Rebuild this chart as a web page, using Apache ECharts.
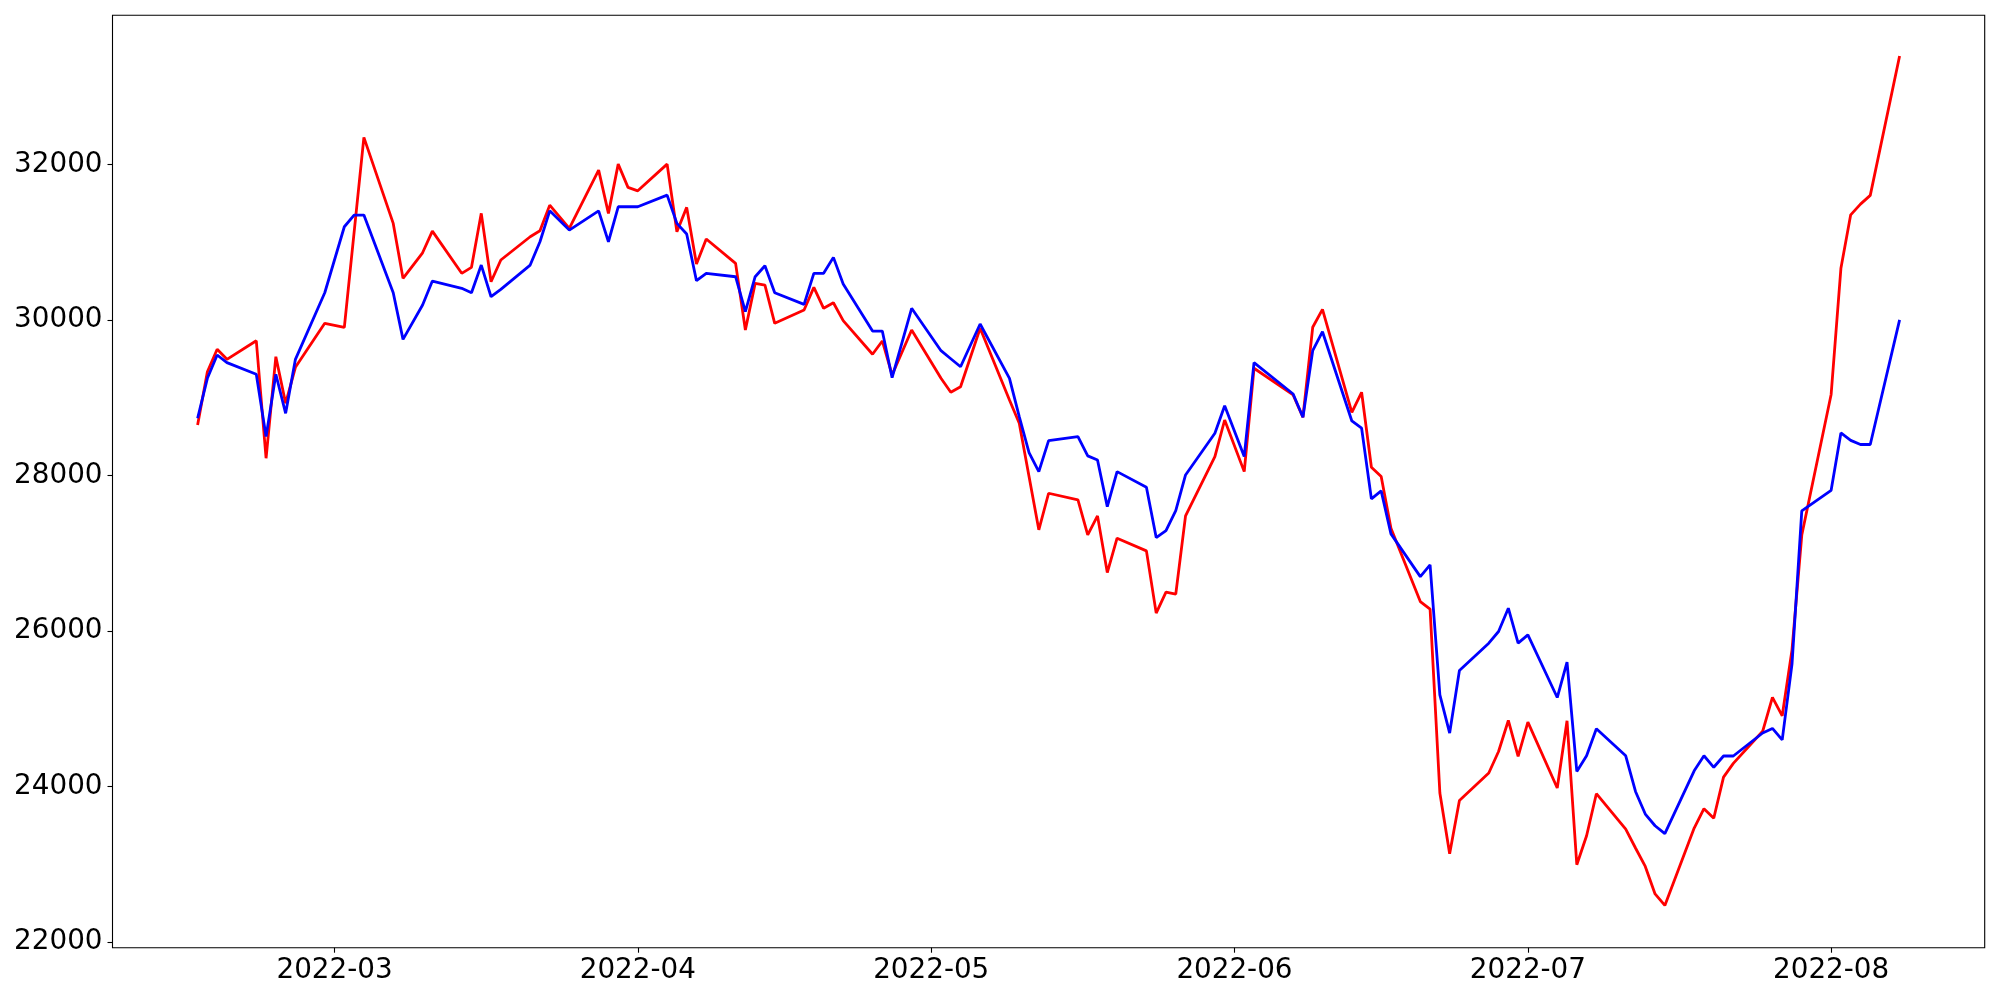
<!DOCTYPE html>
<html>
<head>
<meta charset="utf-8">
<script src="https://cdn.jsdelivr.net/npm/echarts@6/dist/echarts.min.js"></script>
<style>
html,body{margin:0;padding:0;background:#fff;}
#chart{width:2000px;height:1000px;}
</style>
</head>
<body>
<div id="chart"></div>
<script>
const dates = ['2022-02-15','2022-02-16','2022-02-17','2022-02-18','2022-02-21','2022-02-22','2022-02-23','2022-02-24','2022-02-25','2022-02-28',
'2022-03-02','2022-03-03','2022-03-04','2022-03-07','2022-03-08','2022-03-10','2022-03-11','2022-03-14','2022-03-15','2022-03-16','2022-03-17','2022-03-18','2022-03-21','2022-03-22','2022-03-23','2022-03-25','2022-03-28','2022-03-29','2022-03-30','2022-03-31',
'2022-04-01','2022-04-04','2022-04-05','2022-04-06','2022-04-07','2022-04-08','2022-04-11','2022-04-12','2022-04-13','2022-04-14','2022-04-15','2022-04-18','2022-04-19','2022-04-20','2022-04-21','2022-04-22','2022-04-25','2022-04-26','2022-04-27','2022-04-29',
'2022-05-02','2022-05-03','2022-05-04','2022-05-06','2022-05-09','2022-05-10','2022-05-11','2022-05-12','2022-05-13','2022-05-16','2022-05-17','2022-05-18','2022-05-19','2022-05-20','2022-05-23','2022-05-24','2022-05-25','2022-05-26','2022-05-27','2022-05-30','2022-05-31',
'2022-06-02','2022-06-03','2022-06-07','2022-06-08','2022-06-09','2022-06-10','2022-06-13','2022-06-14','2022-06-15','2022-06-16','2022-06-17','2022-06-20','2022-06-21','2022-06-22','2022-06-23','2022-06-24','2022-06-27','2022-06-28','2022-06-29','2022-06-30',
'2022-07-01','2022-07-04','2022-07-05','2022-07-06','2022-07-07','2022-07-08','2022-07-11','2022-07-12','2022-07-13','2022-07-14','2022-07-15','2022-07-18','2022-07-19','2022-07-20','2022-07-21','2022-07-22','2022-07-25','2022-07-26','2022-07-27','2022-07-28','2022-07-29',
'2022-08-01','2022-08-02','2022-08-03','2022-08-04','2022-08-05','2022-08-08'];

const redValues = [28652,29337,29625,29496,29735,28224,29530,28931,29394,29959,
29908,31129,32350,31244,30537,30866,31145,30602,30679,31373,30494,30773,31072,31149,31479,31180,31929,31373,32006,31707,
31663,32006,31136,31450,30721,31043,30730,29873,30473,30451,29959,30130,30422,30152,30224,29993,29561,29732,29295,29873,
29252,29072,29144,29895,28973,28674,27988,27303,27774,27688,27238,27483,26754,27196,27033,26232,26502,26476,27483,28245,28716,
28052,29381,29038,28751,29908,30139,28815,29072,28108,27988,27324,26381,26283,23919,23139,23824,24176,24453,24852,24389,
24831,23983,24848,22997,23370,23910,23456,23212,22975,22621,22474,23469,23717,23595,24123,24300,24713,25149,24912,25760,27236,
29044,30667,31354,31492,31604,33397];

const blueValues = [28738,29252,29552,29453,29304,28502,29304,28802,29496,30352,
31201,31351,31351,30352,29753,30194,30503,30409,30352,30708,30301,30396,30708,31008,31406,31158,31406,31008,31458,31458,
31458,31608,31244,31107,30507,30602,30558,30108,30558,30699,30352,30203,30602,30602,30807,30464,29860,29860,29260,30152,
29607,29504,29401,29950,29252,28759,28296,28052,28450,28502,28254,28202,27602,28052,27851,27204,27294,27551,28009,28545,28900,
28245,29453,29050,28751,29607,29851,28703,28610,27701,27804,27251,26702,26853,25182,24690,25494,25846,25996,26296,25846,
25953,25147,25602,24196,24398,24745,24398,23939,23649,23498,23396,24205,24398,24250,24395,24395,24691,24750,24602,25577,27547,
27812,28549,28454,28401,28401,30003];

const xTickDates = ['2022-03-01','2022-04-01','2022-05-01','2022-06-01','2022-07-01','2022-08-01'];
const xTickLabels = ['2022-03','2022-04','2022-05','2022-06','2022-07','2022-08'];
const yTicks = [22000,24000,26000,28000,30000,32000];

function ts(s){const p=s.split('-').map(Number);return Date.UTC(p[0],p[1]-1,p[2]);}
const tFirst = ts(dates[0]), tLast = ts(dates[dates.length-1]);
const xPad = (tLast - tFirst) * 0.05;
const xTickTs = xTickDates.map(ts);

const redData = dates.map((d,i)=>[ts(d), redValues[i]]);
const blueData = dates.map((d,i)=>[ts(d), blueValues[i]]);

const font = 'DejaVu Sans';
const chart = echarts.init(document.getElementById('chart'), null, {renderer:'canvas'});
chart.setOption({
  animation: false,
  backgroundColor: '#fff',
  grid: {left: 112.5, right: 15.3, top: 15.3, bottom: 52.3, show: true, borderColor: '#000', borderWidth: 1.1, backgroundColor: 'transparent'},
  xAxis: {
    type: 'value',
    min: tFirst - xPad,
    max: tLast + xPad,
    scale: true,
    axisLine: {show: false},
    splitLine: {show: false},
    axisTick: {show: true, length: 5, lineStyle: {color: '#000', width: 1.1}, customValues: xTickTs},
    axisLabel: {
      show: true, margin: 9, color: '#000', fontSize: 27.8, fontFamily: font,
      customValues: xTickTs,
      formatter: function(v){ let best = 0; for (let i = 1; i < xTickTs.length; i++) if (Math.abs(xTickTs[i]-v) < Math.abs(xTickTs[best]-v)) best = i; return xTickLabels[best]; }
    }
  },
  yAxis: {
    type: 'value',
    min: 21930, max: 33920, scale: true,
    axisLine: {show: false},
    splitLine: {show: false},
    axisTick: {show: true, length: 5, lineStyle: {color: '#000', width: 1.1}, customValues: yTicks},
    axisLabel: {show: true, margin: 10, color: '#000', fontSize: 27.8, fontFamily: font, customValues: yTicks,
      formatter: function(v){ return String(v); }}
  },
  series: [
    {type: 'line', data: redData, symbol: 'none', lineStyle: {color: '#ff0000', width: 2.8}, itemStyle:{color:'#ff0000'}, z: 2},
    {type: 'line', data: blueData, symbol: 'none', lineStyle: {color: '#0000ff', width: 2.8}, itemStyle:{color:'#0000ff'}, z: 3}
  ]
});
</script>
</body>
</html>
